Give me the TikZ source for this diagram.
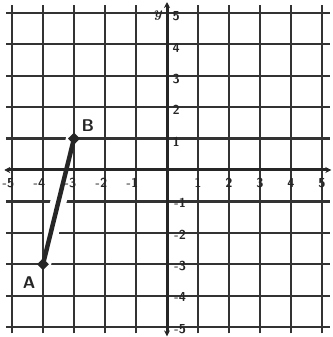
\documentclass[tikz,border=0pt]{standalone}
\usetikzlibrary{shapes.geometric,arrows.meta}
\begin{document}
\begin{tikzpicture}[x=31pt,y=31.4pt,
  >={Stealth[length=6pt,width=6pt]},
  gridline/.style={line width=2.2pt,draw=black!80},
  axisline/.style={line width=3pt,draw=black!85,<->},
  ticklab/.style={font=\sffamily\bfseries\fontsize{13}{13}\selectfont,text=black!85,inner sep=0pt},
  ptlab/.style={font=\sffamily\bfseries\fontsize{17}{17}\selectfont,text=black!85,fill=white,inner sep=1.5pt},
  ptmark/.style={diamond,fill=black!85,inner sep=0pt,minimum size=12pt},
  segline/.style={line width=4.5pt,draw=black!85},
  halo/.style={line width=16pt,draw=white}]
\useasboundingbox (-167pt,-167pt) rectangle (165pt,170pt);
% grid: horizontal lines
\foreach \j in {-5,...,-1,1,2,...,5} {
  \draw[gridline] (-5.2,\j) -- (5.25,\j);
}
% white halo of the segment (cuts the horizontal lines only)
\coordinate (A) at (-4,-3);
\coordinate (B) at (-3,1);
\draw[halo] (A) -- (B);
% grid: vertical lines
\foreach \i in {-5,...,-1,1,2,...,5} {
  \draw[gridline] (\i,-5.2) -- (\i,5.25);
}
% axes
\coordinate (xl) at (-5.25,0);
\coordinate (xr) at (5.3,0);
\coordinate (yb) at (0,-5.3);
\coordinate (yt) at (0,5.35);
\draw[axisline] (xl) -- (xr);
\draw[axisline] (yb) -- (yt);
\node[font=\itshape\bfseries\fontsize{15}{15}\selectfont,text=black!85] (ylab) at (-0.3,4.93) {y};
% tick labels
\foreach \i in {1,...,5} {
  \node[ticklab] (xp\i) at (\i,-0.42) {\i};
  \node[ticklab] (yp\i) at (0.3,\i-0.1) {\i};
  \node[ticklab] (xn\i) at (-\i-0.12,-0.42) {-\i};
  \node[ticklab] (yn\i) at (0.42,-\i-0.06) {-\i};
}
% segment and labels
\node[ptlab] (Alab) at (-4.45,-3.6) {A};
\node[ptlab] (Blab) at (-2.55,1.4) {B};
\draw[segline] (A) -- (B);
\node[ptmark] (Am) at (A) {};
\node[ptmark] (Bm) at (B) {};
\end{tikzpicture}
\end{document}
